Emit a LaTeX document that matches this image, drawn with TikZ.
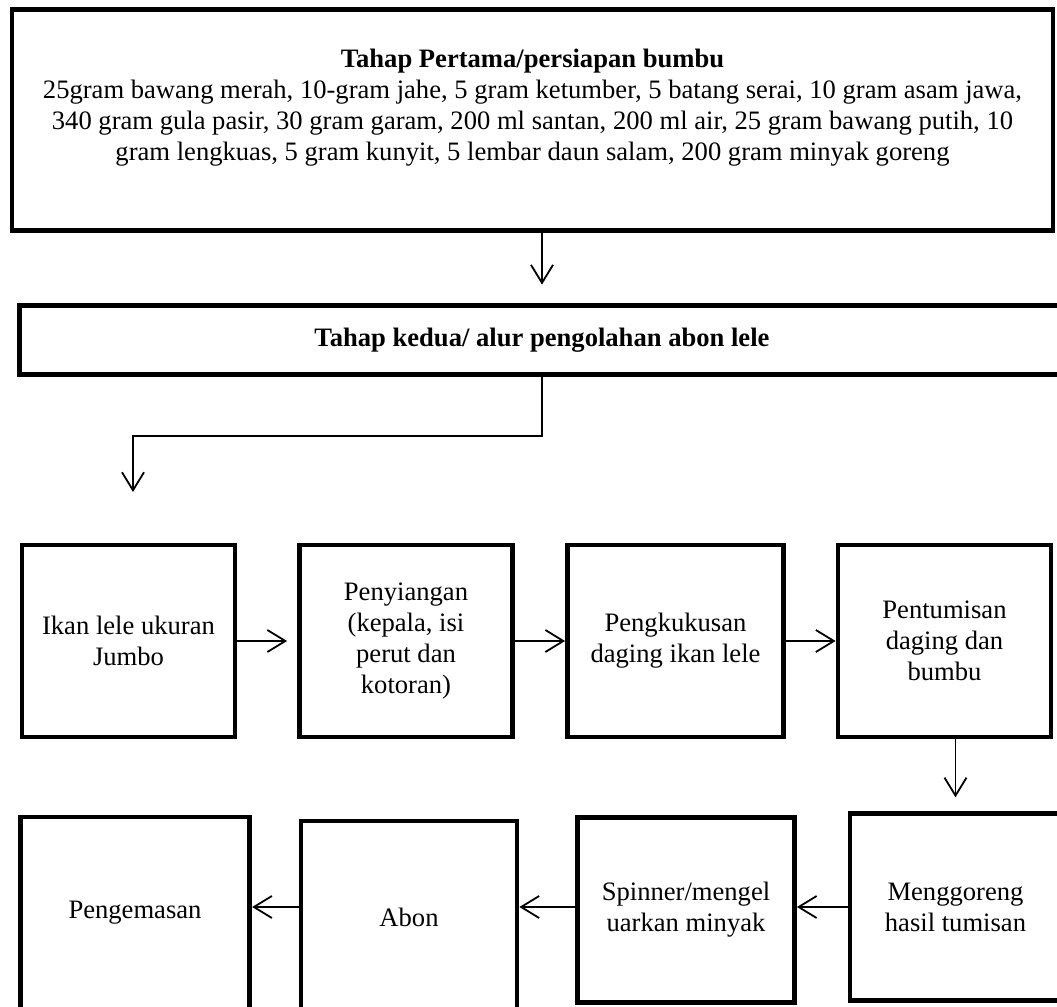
\documentclass[tikz,border=0pt]{standalone}
\usepackage{fontspec}
\setmainfont{Liberation Serif}
\usetikzlibrary{arrows.meta}

\begin{document}
\begin{tikzpicture}[
  x=0.5pt, y=-0.5pt,
  every node/.style={font=\fontsize{13.3}{15.5}\selectfont},
  stage/.style={
    draw=black, line width=2.4pt, align=center, inner sep=4pt
  },
  stepbox/.style={
    stage, minimum width=106.5pt, minimum height=96pt
  },
  arrow/.style={-{Straight Barb[length=9pt, width=11pt]}, line width=0.9pt}
]
  \useasboundingbox (0,0) rectangle (1057,1007);
  \clip (0,0) rectangle (1057,1007);

  % Tahap pertama dan kedua
  \node[stage, minimum width=520.5pt, minimum height=110.5pt, text depth=15.5pt] (bumbu) at (532.5, 120) {\textbf{Tahap Pertama/persiapan bumbu}\\
    25gram bawang merah, 10-gram jahe, 5 gram ketumber, 5 batang serai, 10 gram asam jawa,\\
    340 gram gula pasir, 30 gram garam, 200 ml santan, 200 ml air, 25 gram bawang putih, 10\\
    gram lengkuas, 5 gram kunyit, 5 lembar daun salam, 200 gram minyak goreng};
  \node[stage, minimum width=522.5pt, minimum height=34.5pt] (kedua) at (542, 340) {\textbf{Tahap kedua/ alur pengolahan abon lele}};

  % Baris pertama
  \node[stepbox] (ikan) at (128.5, 641) {Ikan lele ukuran\\Jumbo};
  \node[stepbox] (siang) at (406, 641) {Penyiangan\\(kepala, isi\\perut dan\\kotoran)};
  \node[stepbox, minimum width=108pt] (kukus) at (675.5, 641) {Pengkukusan\\daging ikan lele};
  \node[stepbox] (tumis) at (944.5, 641) {Pentumisan\\daging dan\\bumbu};

  % Baris kedua
  \node[stepbox, minimum width=114.75pt] (kemas) at (135, 913) {Pengemasan};
  \node[stepbox, minimum width=108pt] (abon) at (409, 917) {Abon};
  \node[stepbox, minimum width=108.5pt, minimum height=92.25pt] (spinner) at (686, 910) {Spinner/mengel\\uarkan minyak};
  \node[stepbox, minimum width=105.5pt, minimum height=93.25pt] (goreng) at (955.5, 907) {Menggoreng\\hasil tumisan};

  \coordinate (belok) at (133, 436);
  \coordinate (turun) at (133, 492);

  % Panah
  \draw[arrow, shorten >=9.25pt] (bumbu.south -| kedua.north) -- (kedua.north);
  \draw[arrow] (kedua.south) |- (belok) -- (turun);

  \draw[arrow, shorten >=5pt] (ikan) -- (siang);
  \draw[arrow] (siang) -- (kukus);
  \draw[arrow] (kukus) -- (tumis);
  \draw[arrow, shorten >=7pt] (tumis.south -| goreng.north) -- (goreng.north);

  \draw[arrow] (goreng.west) -- (goreng.west -| spinner.east);
  \draw[arrow] (goreng.west -| spinner.west) -- (goreng.west -| abon.east);
  \draw[arrow] (goreng.west -| abon.west) -- (goreng.west -| kemas.east);

\end{tikzpicture}
\end{document}
